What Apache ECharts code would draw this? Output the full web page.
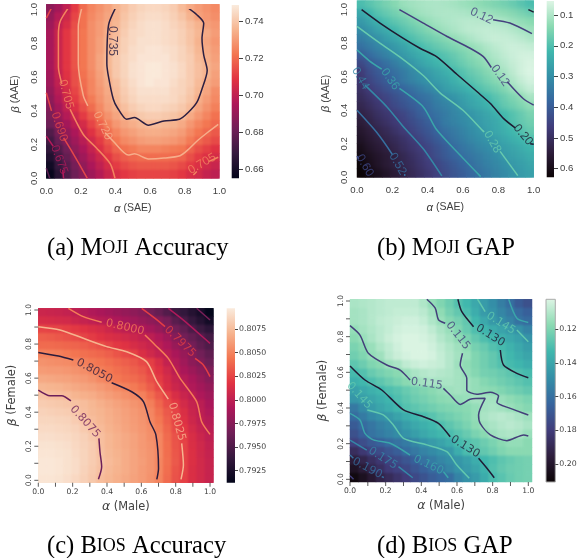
<!DOCTYPE html>
<html><head><meta charset="utf-8">
<style>html,body{margin:0;padding:0;background:#fff}
#stage{position:relative;width:582px;height:558px;overflow:hidden}
.layer{position:absolute;left:0;top:0;width:582px;height:558px}
</style>
<script src="https://cdn.jsdelivr.net/npm/echarts@6/dist/echarts.min.js"></script>
</head><body><div id="stage"></div>
<script>
// Heat values, top row is beta = 1.0, bottom row beta = 0.0; columns alpha = 0 .. 1 in steps of .05
const mojiAccuracy = [ // x 0.001
[688,693,700,710,720,725,728,731,735,738,741,743,744,744,743,741,737,733,730,728,726],
[690,697,703,712,721,726,729,732,735,739,742,744,745,745,744,742,739,735,731,729,727],
[692,700,706,714,721,727,730,733,736,740,743,745,746,746,745,743,741,738,735,731,729],
[694,702,709,715,722,727,730,734,737,741,744,745,746,746,745,744,742,739,736,733,730],
[694,702,709,715,722,727,731,735,738,742,744,746,746,746,745,744,742,739,735,732,729],
[694,702,709,715,722,727,731,735,739,742,745,746,747,747,746,745,743,740,736,733,730],
[694,702,709,715,722,727,732,736,740,743,745,747,747,747,747,745,743,741,737,734,731],
[694,702,709,715,722,727,732,736,740,743,746,747,748,748,747,746,744,741,738,735,732],
[693,701,708,714,721,726,731,735,740,743,746,747,748,748,747,746,744,741,738,735,731],
[692,700,707,714,720,725,730,734,738,742,745,747,748,747,747,745,743,741,737,733,730],
[690,698,705,712,719,725,729,733,737,741,744,746,746,746,746,744,743,740,736,732,727],
[688,696,703,710,717,723,728,732,736,740,743,745,745,745,745,744,742,739,734,730,726],
[686,693,700,707,714,720,726,731,734,738,741,743,744,744,743,742,740,737,732,728,724],
[684,690,697,703,710,716,722,728,732,735,738,740,741,741,740,739,737,733,729,725,721],
[681,687,693,699,705,712,718,724,729,732,734,736,737,737,736,735,733,729,725,722,719],
[675,683,689,695,702,708,714,720,725,729,731,733,734,734,733,732,730,726,722,719,716],
[671,680,686,692,698,704,710,716,722,726,728,730,731,731,730,729,727,723,719,716,713],
[667,675,682,689,695,701,707,713,718,721,723,725,725,725,724,723,722,718,714,711,708],
[663,671,679,686,692,698,703,709,714,717,719,720,720,720,720,719,718,714,710,707,705],
[659,668,676,683,689,695,700,705,710,713,715,716,716,716,716,715,713,710,707,704,702],
[656,665,674,681,687,692,697,702,706,709,711,712,712,712,712,711,709,706,704,701,699]];
const mojiGap = [ // x 0.001
[205,188,172,156,140,122,114,108,104,102,105,110,118,125,133,142,150,160,172,188,205],
[250,222,193,177,160,145,126,115,108,102,100,100,103,108,113,118,124,132,142,154,168],
[280,255,230,205,185,170,155,140,124,112,104,98,93,91,92,95,98,104,118,128,137],
[305,285,262,240,215,192,175,160,145,128,115,105,95,88,84,82,84,88,96,107,118],
[335,315,295,270,248,225,200,182,168,155,140,128,115,102,90,82,76,78,82,90,100],
[358,340,320,300,280,258,235,212,193,178,163,150,138,128,115,100,88,78,72,74,80],
[400,368,345,325,300,280,258,240,222,207,192,175,158,142,128,112,98,85,74,67,66],
[440,410,385,360,335,310,285,262,243,225,208,190,172,155,140,125,110,95,80,68,60],
[470,430,405,385,360,340,315,295,275,255,235,215,195,175,160,142,125,108,88,68,58],
[480,445,420,398,372,345,325,305,290,272,255,232,210,192,175,158,140,120,100,80,66],
[492,465,443,420,400,380,360,340,320,298,272,255,240,222,198,180,163,145,120,98,80],
[505,485,465,448,425,405,385,365,350,330,305,290,270,250,235,215,190,170,150,132,108],
[520,500,480,460,437,418,400,382,362,340,325,310,280,262,245,230,205,180,165,148,130],
[535,517,497,480,465,445,420,395,375,357,340,320,305,290,272,255,235,215,195,175,155],
[550,530,510,492,472,455,435,415,395,368,340,325,312,296,278,262,248,225,198,180,165],
[565,547,528,512,490,470,450,430,410,385,358,342,325,308,290,270,252,235,218,197,178],
[578,558,542,525,510,490,470,450,425,402,378,352,335,318,302,288,270,250,235,218,200],
[593,572,555,540,522,500,482,465,445,422,398,372,350,335,318,305,287,270,255,240,225],
[606,588,570,555,540,518,498,478,452,428,405,385,365,350,335,320,303,280,268,255,240],
[620,595,575,555,538,520,505,485,465,448,425,405,385,365,345,330,315,298,282,270,255],
[628,610,592,575,555,535,513,495,477,455,435,415,398,378,360,342,325,310,292,278,265]];
const biosAccuracy = [ // x 0.0001
[8006,8005,8004,8002,7999,7996,7993,7990,7987,7984,7981,7978,7974,7966,7960,7952,7942,7937,7930,7923,7913],
[8012,8011,8010,8009,8006,8003,8000,7997,7995,7992,7989,7986,7982,7978,7974,7968,7955,7947,7938,7930,7921],
[8025,8024,8024,8022,8020,8017,8014,8011,8007,8002,7999,7996,7992,7988,7982,7973,7966,7959,7949,7941,7934],
[8035,8034,8032,8030,8028,8024,8021,8017,8014,8012,8009,8006,8002,7999,7993,7986,7974,7966,7960,7953,7945],
[8040,8040,8039,8038,8037,8035,8032,8029,8024,8020,8017,8012,8008,8004,7998,7992,7982,7974,7967,7958,7950],
[8050,8049,8048,8046,8044,8042,8040,8038,8035,8031,8027,8023,8014,8008,8002,7998,7990,7982,7974,7966,7958],
[8056,8055,8054,8053,8051,8048,8046,8044,8041,8038,8035,8032,8027,8022,8013,8002,7995,7986,7977,7971,7963],
[8060,8059,8059,8058,8056,8054,8050,8048,8045,8042,8039,8036,8032,8025,8017,8008,7998,7990,7984,7977,7971],
[8066,8065,8064,8063,8061,8059,8056,8052,8048,8045,8042,8040,8036,8029,8021,8012,8003,7996,7990,7983,7975],
[8072,8071,8070,8068,8066,8064,8062,8059,8056,8052,8049,8046,8041,8034,8025,8014,8006,8000,7993,7987,7981],
[8078,8076,8075,8074,8071,8069,8067,8064,8061,8058,8055,8052,8049,8041,8032,8023,8013,8005,7999,7992,7986],
[8082,8081,8080,8079,8077,8075,8072,8069,8066,8063,8060,8057,8054,8048,8038,8028,8020,8010,8003,7998,7990],
[8085,8084,8083,8082,8080,8076,8073,8071,8068,8065,8062,8059,8056,8051,8042,8033,8024,8014,8005,7999,7993],
[8087,8087,8086,8085,8082,8078,8075,8072,8069,8066,8063,8060,8057,8052,8045,8035,8025,8016,8007,8000,7996],
[8089,8089,8088,8087,8085,8081,8077,8074,8070,8067,8064,8061,8058,8054,8048,8038,8027,8019,8010,8003,7998],
[8091,8091,8090,8089,8087,8084,8080,8076,8072,8069,8066,8063,8059,8055,8051,8040,8030,8023,8013,8006,8000],
[8093,8093,8092,8091,8088,8085,8082,8076,8072,8069,8066,8063,8059,8056,8051,8041,8031,8024,8014,8008,8002],
[8094,8094,8093,8092,8089,8086,8082,8077,8073,8070,8067,8064,8060,8057,8052,8041,8032,8024,8015,8008,8003],
[8095,8095,8094,8092,8090,8086,8082,8078,8074,8071,8067,8064,8061,8057,8051,8042,8033,8024,8015,8009,8004],
[8095,8095,8094,8092,8090,8085,8081,8077,8073,8070,8067,8064,8060,8057,8051,8041,8031,8024,8014,8009,8004],
[8094,8094,8093,8091,8088,8084,8080,8075,8072,8069,8066,8063,8060,8056,8050,8040,8030,8023,8014,8009,8004]];
const biosGap = [ // x 0.001
[112,111,110,109,108,108,108,108,111,116,120,124,129,133,139,144,149,155,161,168,172],
[113,112,110,109,108,107,107,107,109,113,117,122,126,131,137,144,147,152,157,162,166],
[113,112,110,108,107,106,105,105,107,111,115,119,122,126,133,139,145,149,153,159,162],
[116,113,111,109,107,105,104,104,105,108,112,115,120,125,130,134,138,141,144,148,153],
[118,115,112,109,106,104,103,103,104,106,110,113,117,121,126,130,133,136,139,142,147],
[121,118,115,111,108,105,103,103,103,105,108,111,114,117,122,125,129,132,135,139,143],
[123,120,116,114,109,106,104,103,103,104,107,110,113,115,120,123,126,130,133,137,140],
[127,124,120,118,114,112,108,106,105,106,107,110,114,117,120,123,126,129,132,134,137],
[132,129,125,122,120,118,115,112,110,109,110,111,113,116,119,122,123,125,127,130,132],
[136,133,130,127,124,121,118,115,113,112,112,112,113,114,116,119,121,123,125,127,129],
[142,139,136,133,130,128,125,122,120,118,116,114,113,114,116,117,118,120,122,124,126],
[146,143,140,137,134,130,127,124,122,120,118,117,116,115,113,113,113,115,117,119,121],
[157,150,144,140,137,133,129,127,125,123,121,120,119,118,116,113,112,113,115,117,119],
[162,156,151,148,145,141,137,134,131,128,125,123,121,119,116,112,110,109,110,112,114],
[168,162,158,154,151,148,143,139,136,133,130,127,124,121,117,114,112,110,109,110,112],
[172,166,159,156,153,150,147,143,139,136,133,131,128,125,121,118,114,112,111,112,115],
[178,173,169,166,162,159,156,152,147,144,141,137,132,129,127,124,121,118,116,116,118],
[187,182,177,174,170,167,161,157,153,150,147,145,137,131,128,126,123,120,118,118,118],
[196,191,186,182,177,174,170,166,159,156,152,149,146,142,137,133,130,127,125,123,122],
[202,197,191,186,181,178,175,170,166,162,158,152,147,144,140,135,129,126,124,123,122],
[208,203,198,192,188,184,180,175,171,167,164,161,153,148,144,138,131,128,125,123,122]];

// Colour ramps
const rocket = ['#03051a','#35193e','#701f57','#ad1759','#e13342','#f37651','#f6b48f','#faebdd'];
const makoR  = ['#def5e5','#8bdab2','#40b7ad','#348fa7','#37659e','#413d7b','#2e1e3c','#0b0405'];

// Contours: [level, colour, segments of [alpha, beta]]
const mojiAccContours = [
['0.735','#2b1f42',[[[.40,1.01],[.36,.91],[.35,.68],[.36,.6],[.387,.47],[.41,.42],[.464,.35],[.51,.36],[.59,.315],[.68,.34],[.77,.35],[.82,.39],[.87,.45],[.90,.53],[.93,.64],[.91,.73],[.90,.83],[.91,.92],[.87,.97],[.82,1.01]]]],
['0.720','#f6ae8b',[[[.205,1.01],[.185,.90],[.185,.68],[.214,.49],[.24,.43]],[[.34,.27],[.387,.22],[.474,.138],[.51,.145],[.59,.115],[.68,.12],[.773,.134],[.82,.17],[.87,.22],[.93,.27],[.994,.32]]]],
['0.705','#f3855f',[[[.127,1.01],[.08,.93],[.07,.85],[.07,.66],[.09,.56]],[[.137,.41],[.214,.26],[.29,.18],[.37,.086],[.397,0]],[[.85,.02],[.87,.04]],[[.94,.10],[.994,.125]]]],
['0.690','#e4474a',[[[.03,1.01],[0,.95]],[[0,.507],[.03,.40]],[[.10,.24],[.146,.163],[.237,0]]]],
['0.675','#b31a5a',[[[0,.25],[.04,.19]],[[.095,.05],[.1,0]]]],
['0.660','#5c1f52',[[[0,.06],[.02,0]]]]];
const mojiAccLabels = [[.383,.814,'0.735',-90,'#2b1f42'],[.326,.312,'0.720',-65,'#f6ae8b'],[.114,.498,'0.705',-75,'#f3855f'],[.075,.306,'0.690',-72,'#e4474a'],[.075,.11,'0.675',-70,'#b31a5a'],[.90,.086,'0.705',30,'#f3855f']];

const mojiGapContours = [
['0.12','#45407e',[[[.24,1.0],[.375,.92],[.51,.84],[.64,.77],[.715,.72],[.76,.655]],[[.85,.57],[.94,.47],[1,.43]],[[.77,.94],[.865,.92],[.99,.857]]]],
['0.20','#1e1a30',[[[.026,1.0],[.13,.92],[.26,.83],[.356,.77],[.45,.72],[.565,.615],[.68,.51],[.755,.44],[.83,.35],[.895,.295]],[[.98,.2],[1,.197]],[[.97,1.0],[1,.985]]]],
['0.28','#68cbae',[[[0,.90],[.11,.815],[.24,.72],[.375,.607],[.47,.504],[.6,.40],[.71,.28],[.72,.27]],[[.81,.155],[.91,.01]]]],
['0.36','#3aa6aa',[[[0,.76],[.07,.695],[.14,.645]],[[.24,.53],[.375,.42],[.45,.285],[.58,.136],[.70,.004]]]],
['0.44','#3488a6',[[[.045,.55],[.17,.42],[.26,.305],[.375,.17],[.48,.008]]]],
['0.52','#3670a0',[[[0,.40],[.11,.27],[.2,.136]],[[.27,.02],[.27,.008]]]],
['0.60','#3f4a8a',[[[0,.126],[.01,.11]]]]];
const mojiGapLabels = [[.705,.962,'0.12',-25,'#45407e'],[.81,.607,'0.12',-55,'#45407e'],[.94,.253,'0.20',-50,'#1e1a30'],[.766,.211,'0.28',-60,'#68cbae'],[.187,.585,'0.36',-55,'#3aa6aa'],[.02,.59,'0.44',-60,'#3488a6'],[.23,.08,'0.52',-60,'#3670a0'],[.045,.07,'0.60',-60,'#3f4a8a']];

const biosAccContours = [
['0.8075','#6b1f5a',[[[0,.53],[.068,.497],[.136,.497],[.19,.466]],[[.353,.246],[.359,.168],[.369,.08],[.35,.006]]]],
['0.8050','#2a1c3c',[[[0,.751],[.117,.73],[.204,.706]],[[.427,.573],[.544,.52],[.612,.462],[.65,.344],[.685,.266],[.70,.07],[.69,.006]]]],
['0.8025','#f6b48f',[[[0,.902],[.126,.883],[.262,.834],[.398,.785],[.515,.755],[.63,.697],[.69,.579],[.757,.477]],[[.835,.217],[.845,.09],[.831,.006]]]],
['0.8000','#f47d57',[[[.175,1.01],[.262,.961],[.369,.928]],[[.621,.853],[.68,.795],[.757,.716],[.825,.6],[.922,.462],[.951,.344],[1,.27]]]],
['0.7975','#e43d44',[[[.602,1.01],[.68,.951],[.738,.902]],[[.913,.716],[.961,.677],[1,.609]]]],
['0.7950','#b0195a',[[[.757,1.01],[.845,.941],[.922,.873],[1,.804]]]],
['0.7925','#7a1f58',[[[.922,1.01],[1,.941]]]]];
const biosAccLabels = [[.272,.344,'0.8075',-48,'#6b1f5a'],[.326,.642,'0.8050',-28,'#2a1c3c'],[.806,.344,'0.8025',-75,'#f6b48f'],[.505,.898,'0.8000',-13,'#f47d57'],[.825,.814,'0.7975',-45,'#e43d44']];

const biosGapContours = [
['0.115','#443f7a',[[[.431,1.01],[.478,.96],[.496,.895],[.534,.875]],[[.631,.707],[.618,.641],[.655,.566],[.655,.501],[.712,.477],[.787,.488],[.833,.467],[.824,.432],[.899,.398],[1,.361]],[[0,.862],[.056,.809],[.103,.707],[.206,.641],[.281,.613],[.337,.557]],[[.524,.51],[.562,.473],[.618,.42],[.674,.449],[.758,.454],[.721,.361],[.73,.314],[.787,.249],[.88,.217],[.974,.249],[1,.243]]]],
['0.130','#201b34',[[[0,.636],[.084,.557],[.178,.501],[.30,.389],[.412,.351],[.496,.314],[.562,.239]],[[.721,.118],[.768,.062],[.809,.009]],[[.605,1.01],[.627,.94],[.693,.856]],[[.843,.725],[.861,.641],[.936,.594],[1,.57]]]],
['0.145','#62c8ae',[[[.097,.389],[.187,.361],[.243,.305],[.30,.23],[.431,.193],[.543,.155],[.599,.08],[.669,.006]],[[.715,1.01],[.758,.94]],[[.936,.837],[1,.772]]]],
['0.160','#3aa5aa',[[[0,.37],[.056,.333],[.084,.258],[.131,.221],[.225,.202],[.337,.136]],[[.524,.043],[.551,.009]],[[.89,1.01],[.936,.903],[1,.88]]]],
['0.175','#3488a7',[[[0,.22],[.094,.164]],[[.272,.071],[.352,.009]]]],
['0.190','#3670a0',[[[0,.136],[.019,.118]],[[.178,.015],[.19,.01]]]],
['0.205','#413d7b',[[[0,.02],[.02,0]]]]];
const biosGapLabels = [[.605,.806,'0.115',-52,'#443f7a'],[.431,.535,'0.115',-8,'#443f7a'],[.646,.183,'0.130',-32,'#201b34'],[.787,.806,'0.130',-32,'#201b34'],[.052,.469,'0.145',-48,'#62c8ae'],[.846,.875,'0.145',-32,'#62c8ae'],[.44,.08,'0.160',-25,'#3aa5aa'],[.184,.118,'0.175',-32,'#3488a7'],[.097,.062,'0.190',-28,'#3670a0']];

// Tick labels
const unitTicks = [0,.2,.4,.6,.8,1];
const minorTicks = [0,.1,.2,.3,.4,.5,.6,.7,.8,.9,1];
const mojiAccBar = [.66,.68,.70,.72,.74];
const mojiGapBar = [.1,.2,.3,.4,.5,.6];
const biosAccBar = [.7925,.795,.7975,.80,.8025,.805,.8075];
const biosGapBar = [.12,.14,.16,.18,.20];

const panels = [
 {rows:mojiAccuracy,scale:.001,cmap:rocket,vmin:.655,vmax:.7486,contours:mojiAccContours,labels:mojiAccLabels,soft:1.0,
  plot:[46.3,4.3,219.3,178.3],bar:[231.7,5,239,178.3],xr:[0,1],yr:[0,1],font:'"Liberation Sans"',tick:9.6,nameSize:10.5,lab:12,
  xn:'SAE',yn:'AAE',ticks:false,barTicks:mojiAccBar,barDigits:2,inv:false,barMargin:5,xGap:24,yGap:25,xM:8,yM:7,barBorder:0},
 {rows:mojiGap,scale:.001,cmap:makoR,vmin:.054,vmax:.628,contours:mojiGapContours,labels:mojiGapLabels,soft:2.6,
  plot:[357,0.6,533.7,177.3],bar:[546.7,1,554,177.3],xr:[0,1],yr:[0,1],font:'"Liberation Sans"',tick:9.6,nameSize:10.5,lab:12,
  xn:'SAE',yn:'AAE',ticks:false,barTicks:mojiGapBar,barDigits:1,inv:true,barMargin:5,xGap:24,yGap:25,xM:8,yM:8,barBorder:0},
 {rows:biosAccuracy,scale:.0001,cmap:rocket,vmin:.79123,vmax:.8097,contours:biosAccContours,labels:biosAccLabels,soft:1.0,
  plot:[38.3,308.3,213.3,482.7],bar:[226.7,308.3,235,482.7],xr:[0,1.019],yr:[-.014,1.01],font:'"DejaVu Sans"',tick:7.6,nameSize:11.4,lab:11.2,
  xn:'Male',yn:'Female',ticks:true,barTicks:biosAccBar,barDigits:4,inv:false,barMargin:3,xGap:18,yGap:20,xM:5,yM:5,barBorder:0},
 {rows:biosGap,scale:.001,cmap:makoR,vmin:.1022,vmax:.2107,contours:biosGapContours,labels:biosGapLabels,soft:1.0,
  plot:[350,299.3,532,482],bar:[546,299.3,555.3,482],xr:[0,1.0207],yr:[-.015,1.0095],font:'"DejaVu Sans"',tick:7.6,nameSize:11.4,lab:11.2,
  xn:'Male',yn:'Female',ticks:true,barTicks:biosGapBar,barDigits:2,inv:true,barMargin:3,xGap:18,yGap:21,xM:5,yM:5,barBorder:1}
];

const cols = [...Array(21).keys()];
const W=582,H=558, ink='#404040';
const stage=document.getElementById('stage');
function rect(r,extra){return Object.assign({left:r[0],top:r[1],width:r[2]-r[0],height:r[3]-r[1],containLabel:false},extra||{});}
function heatData(p){const d=[];p.rows.forEach((row,r)=>row.forEach((v,c)=>d.push([c,20-r,+(v*p.scale).toFixed(5)])));return d;}
function addLayer(css){const el=document.createElement('div');el.className='layer';el.style.cssText=css||'';stage.appendChild(el);
  return echarts.init(el,null,{renderer:'canvas',width:W,height:H});}
function heatOption(p){return {animation:false,grid:[rect(p.plot)],
  xAxis:[{type:'category',data:cols,show:false}],yAxis:[{type:'category',data:cols,show:false}],
  visualMap:[{show:false,type:'continuous',seriesIndex:0,dimension:2,min:p.vmin,max:p.vmax,inRange:{color:p.cmap}}],
  series:[{type:'heatmap',data:heatData(p),itemStyle:{borderWidth:0},emphasis:{disabled:true},progressive:0,animation:false}]};}
// each heat map is drawn twice: crisp beneath, softened above (reference is a soft, low-resolution raster)
panels.forEach(p=>{
  addLayer('').setOption(heatOption(p));
  const [l,t,r,b]=p.plot;
  addLayer(`filter:blur(${p.soft}px);clip-path:inset(${t}px ${W-r}px ${H-b}px ${l}px)`).setOption(heatOption(p));
});

const grid=[],xAxis=[],yAxis=[],series=[];
panels.forEach(p=>{
  const g=grid.length; grid.push(rect(p.plot));
  const fmtLab={fontFamily:p.font,fontSize:p.tick,color:ink,customValues:unitTicks,formatter:v=>(+v).toFixed(1),hideOverlap:false,showMinLabel:true,showMaxLabel:true};
  const nameStyle=()=>({fontFamily:p.font,fontSize:p.nameSize,color:ink,rich:{i:{fontFamily:p.font,fontSize:p.nameSize+1,fontStyle:'italic',color:ink}}});
  const valX=xAxis.length; xAxis.push({gridIndex:g,type:'value',min:p.xr[0],max:p.xr[1],position:'bottom',
     axisLine:{show:false,onZero:false},splitLine:{show:false},axisTick:{show:false},axisLabel:Object.assign({margin:p.xM},fmtLab),
     name:`{i|α} (${p.xn})`,nameLocation:'middle',nameGap:p.xGap,nameTextStyle:nameStyle()});
  const valY=yAxis.length; yAxis.push({gridIndex:g,type:'value',min:p.yr[0],max:p.yr[1],position:'left',
     axisLine:{show:false,onZero:false},splitLine:{show:false},axisTick:{show:false},axisLabel:Object.assign({margin:p.yM,rotate:90},fmtLab),
     name:`{i|β} (${p.yn})`,nameLocation:'middle',nameGap:p.yGap,nameTextStyle:nameStyle()});
  p.contours.forEach(c=>c[2].forEach(seg=>series.push({type:'line',xAxisIndex:valX,yAxisIndex:valY,data:seg,showSymbol:false,symbol:'none',smooth:.25,
     lineStyle:{color:c[1],width:1.5},silent:true,animation:false,z:3})));
  series.push({type:'scatter',xAxisIndex:valX,yAxisIndex:valY,symbolSize:0,silent:true,animation:false,z:4,
     data:p.labels.map(l=>({value:[l[0],l[1]],label:{show:true,position:'inside',formatter:l[2],rotate:l[3],color:l[4],fontFamily:p.font,fontSize:p.lab}}))});
  if(p.ticks){ // tick marks hanging outside the plot, placed by the axis scales
    series.push({type:'scatter',xAxisIndex:valX,yAxisIndex:valY,clip:false,silent:true,animation:false,symbol:'rect',symbolSize:[1,4],symbolOffset:[0,2],
      itemStyle:{color:'#333'},data:minorTicks.map(t=>[t,p.yr[0]])});
    series.push({type:'scatter',xAxisIndex:valX,yAxisIndex:valY,clip:false,silent:true,animation:false,symbol:'rect',symbolSize:[4,1],symbolOffset:[-2,0],
      itemStyle:{color:'#333'},data:minorTicks.map(t=>[p.xr[0],t])});
  }
  const gb=grid.length;
  const grad=new echarts.graphic.LinearGradient(0,0,0,1,(p.inv?p.cmap:[...p.cmap].reverse()).map((c,i,a)=>({offset:i/(a.length-1),color:c})));
  grid.push(rect(p.bar,{show:true,backgroundColor:grad,borderWidth:p.barBorder,borderColor:'#aaa'}));
  xAxis.push({gridIndex:gb,type:'value',show:false,min:0,max:1});
  const barFmt=v=>(+v).toFixed(p.barDigits);
  yAxis.push({gridIndex:gb,type:'value',position:'right',inverse:p.inv,min:p.vmin,max:p.vmax,axisLine:{show:false,onZero:false},splitLine:{show:false},
     axisTick:{show:true,length:p.ticks?3:4,customValues:p.barTicks,lineStyle:{color:'#444',width:1}},
     axisLabel:{margin:p.barMargin+1,fontFamily:p.font,fontSize:p.ticks?7.8:9.6,color:ink,customValues:p.barTicks,formatter:barFmt}});
});

// Captions
const capRich={n:{fontFamily:'"Liberation Serif"',fontSize:24.6,color:'#111'},s:{fontFamily:'"Liberation Serif"',fontSize:18,color:'#111'}};
const captions=[['(a) M','OJI',' Accuracy',47,249],['(b) M','OJI',' GAP',377,249],['(c) B','IOS',' Accuracy',47,547],['(d) B','IOS',' GAP',377,547]];
const graphic=captions.map(c=>({type:'text',left:c[3],top:c[4]-13,style:{text:`{n|${c[0]}}{s|${c[1]}}{n|${c[2]}}`,rich:capRich}}));

addLayer('filter:blur(0.45px)').setOption({animation:false,grid,xAxis,yAxis,series,graphic});
</script></body></html>
